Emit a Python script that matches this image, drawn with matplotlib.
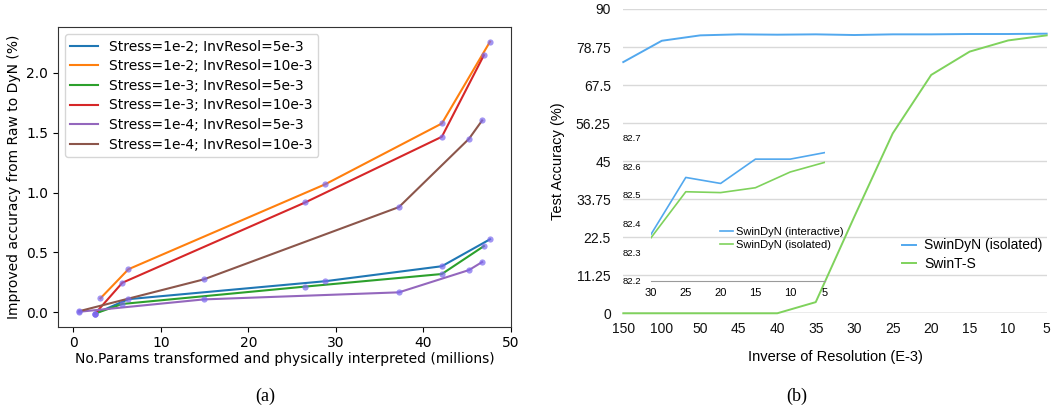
import numpy as np
import matplotlib
matplotlib.use("Agg")
import matplotlib.pyplot as plt

# ---- panel (a): accuracy gain vs. transformed parameter count ----
series_labels = [
    "Stress=1e-2; InvResol=5e-3",
    "Stress=1e-2; InvResol=10e-3",
    "Stress=1e-3; InvResol=5e-3",
    "Stress=1e-3; InvResol=10e-3",
    "Stress=1e-4; InvResol=5e-3",
    "Stress=1e-4; InvResol=10e-3",
]
params_x = [
    [2.5, 6.3, 28.8, 42.1, 47.6],
    [3.1, 6.3, 28.8, 42.1, 47.6],
    [2.5, 5.6, 26.5, 42.1, 46.9],
    [2.5, 5.6, 26.5, 42.1, 46.9],
    [0.7, 14.9, 37.2, 45.2, 46.7],
    [0.7, 14.9, 37.2, 45.2, 46.7],
]
improved_y = [
    [-0.01, 0.11, 0.26, 0.385, 0.61],
    [0.117, 0.36, 1.07, 1.577, 2.26],
    [-0.01, 0.07, 0.215, 0.32, 0.553],
    [-0.01, 0.247, 0.918, 1.466, 2.147],
    [0.005, 0.108, 0.167, 0.353, 0.42],
    [0.01, 0.275, 0.879, 1.449, 1.602],
]

# ---- panel (b): test accuracy vs. inverse resolution ----
res_labels = ["150", "100", "50", "45", "40", "35", "30", "25", "20", "15", "10", "5"]
swindyn_isolated = [74.3, 80.6, 82.2, 82.5, 82.4, 82.5, 82.3, 82.5, 82.5, 82.6, 82.6, 82.7]
swint_s = [0, 0, 0, 0, 0, 3.3, 28.5, 53.2, 70.5, 77.4, 80.7, 82.2]
y_ticks_b = [0, 11.25, 22.5, 33.75, 45, 56.25, 67.5, 78.75, 90]

inset_labels = ["30", "25", "20", "15", "10", "5"]
inset_interactive = [82.362, 82.561, 82.540, 82.625, 82.625, 82.648]
inset_isolated = [82.350, 82.511, 82.508, 82.525, 82.580, 82.614]
inset_yticks = [82.2, 82.3, 82.4, 82.5, 82.6, 82.7]

BLUE = "#52a8ee"
GREEN = "#7fd25c"
SANS = "Liberation Sans"

fig = plt.figure(figsize=(10.58, 4.18), dpi=100)

# ---------------- (a) ----------------
ax1 = fig.add_axes([0.0548, 0.2184, 0.4282, 0.7163])
for lab, xs, ys in zip(series_labels, params_x, improved_y):
    ax1.plot(xs, ys, linewidth=1.5, label=lab)
for xs, ys in zip(params_x, improved_y):
    ax1.scatter(xs, ys, s=20, color="#7b68ee", alpha=0.7, zorder=5, linewidths=0)
ax1.set_xlim(-1.75, 50)
ax1.set_ylim(-0.12, 2.38)
ax1.set_xticks([0, 10, 20, 30, 40, 50])
ax1.set_yticks([0.0, 0.5, 1.0, 1.5, 2.0])
ax1.tick_params(labelsize=10)
ax1.set_xlabel("No.Params transformed and physically interpreted (millions)", fontsize=10, labelpad=1)
ax1.set_ylabel("Improved accuracy from Raw to DyN (%)", fontsize=10)
for sp in ax1.spines.values():
    sp.set_color("#333333")
ax1.legend(loc="upper left", fontsize=10, labelspacing=0.4)

# ---------------- (b) ----------------
ax2 = fig.add_axes([0.5891, 0.2505, 0.4002, 0.728])
xb = np.arange(len(res_labels))
ax2.plot(xb, swindyn_isolated, color=BLUE, linewidth=1.4, label="SwinDyN (isolated)", clip_on=False)
ax2.plot(xb, swint_s, color=GREEN, linewidth=1.4, label="SwinT-S", clip_on=False, zorder=4)
ax2.set_xlim(0, len(res_labels) - 1)
ax2.set_ylim(0, 90)
ax2.set_xticks(xb)
ax2.set_xticklabels(res_labels)
ax2.set_yticks(y_ticks_b)
ax2.set_yticklabels(["0", "11.25", "22.5", "33.75", "45", "56.25", "67.5", "78.75", "90"])
ax2.tick_params(length=0, labelsize=10, labelcolor="#111111")
ax2.tick_params(axis="y", pad=9)
ax2.tick_params(axis="x", pad=6)
for lbl in ax2.get_xticklabels() + ax2.get_yticklabels():
    lbl.set_family(SANS)
for y in y_ticks_b[1:]:
    ax2.axhline(y, color="#d9d9d9", linewidth=1, zorder=0)
ax2.axhline(0, color="#9a9a9a", linewidth=1, zorder=0)
for sp in ax2.spines.values():
    sp.set_visible(False)
ax2.set_xlabel("Inverse of Resolution (E-3)", fontsize=10.5, family=SANS, labelpad=10)
ax2.set_ylabel("Test Accuracy (%)", fontsize=10.5, family=SANS, labelpad=8)
ax2.legend(loc="center left", bbox_to_anchor=(0.846, 0.391), bbox_transform=fig.transFigure,
           frameon=False, prop={"family": SANS, "size": 10},
           handlelength=1.0, handletextpad=0.6, labelspacing=0.3, borderpad=0)

# inset
ax3 = fig.add_axes([0.6153, 0.3285, 0.1645, 0.3421])
ax3.patch.set_alpha(0)
xi = np.arange(len(inset_labels))
ax3.plot(xi, inset_interactive, color=BLUE, linewidth=1.2, label="SwinDyN (interactive)")
ax3.plot(xi, inset_isolated, color=GREEN, linewidth=1.2, label="SwinDyN (isolated)")
ax3.set_xlim(0, len(inset_labels) - 1)
ax3.set_ylim(82.2, 82.7)
ax3.set_xticks(xi)
ax3.set_xticklabels(inset_labels)
ax3.set_yticks(inset_yticks)
ax3.set_yticklabels([f"{v:.1f}" for v in inset_yticks])
ax3.tick_params(length=0)
ax3.tick_params(axis="x", labelsize=8, pad=5)
ax3.tick_params(axis="y", labelsize=6.8, pad=7)
for lbl in ax3.get_xticklabels() + ax3.get_yticklabels():
    lbl.set_family(SANS)
for name, sp in ax3.spines.items():
    if name == "bottom":
        sp.set_color("#9a9a9a")
    else:
        sp.set_visible(False)
ax3.legend(loc="center left", bbox_to_anchor=(0.675, 0.429), bbox_transform=fig.transFigure,
           frameon=False, prop={"family": SANS, "size": 8},
           handlelength=1.2, handletextpad=0.3, labelspacing=0.25, borderpad=0)

# captions
fig.text(265 / 1058, 1 - 396 / 418, "(a)", ha="center", va="center", family="Liberation Serif", fontsize=13)
fig.text(797 / 1058, 1 - 396 / 418, "(b)", ha="center", va="center", family="Liberation Serif", fontsize=13)

fig.savefig("out.png", dpi=100)
plt.close(fig)
